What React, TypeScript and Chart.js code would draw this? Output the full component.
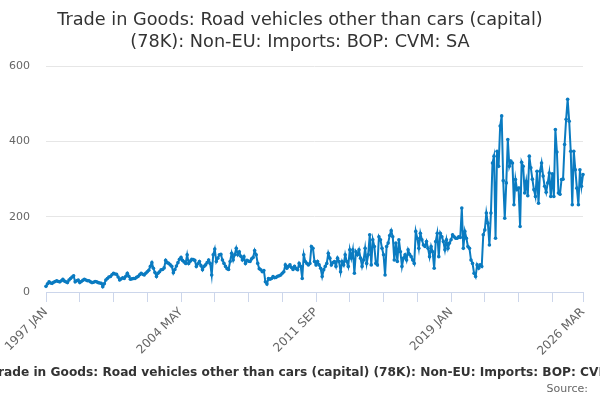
import React, { useEffect, useRef } from "react";
import { Chart, registerables } from "chart.js";

Chart.register(...registerables);

const TITLE = [
  "Trade in Goods: Road vehicles other than cars (capital)",
  "(78K): Non-EU: Imports: BOP: CVM: SA",
];
const CAPTION =
  "Trade in Goods: Road vehicles other than cars (capital) (78K): Non-EU: Imports: BOP: CVM: SA";

const MONTHS = ["JAN", "FEB", "MAR", "APR", "MAY", "JUN", "JUL", "AUG", "SEP", "OCT", "NOV", "DEC"];
const START_YEAR = 1997;

// monthly values, 1997 JAN .. 2026 MAR
const values = [
  15, 22, 27, 24, 23, 26, 28, 30, 28, 27,
  30, 34, 29, 27, 25, 32, 36, 40, 43, 27,
  30, 32, 25, 28, 31, 34, 32, 30, 30, 27,
  25, 26, 28, 27, 25, 24, 23, 14, 22, 32,
  36, 40, 41, 46, 50, 48, 47, 40, 32, 35,
  38, 36, 42, 50, 42, 34, 35, 36, 36, 39,
  41, 46, 50, 47, 45, 50, 54, 58, 68, 78,
  63, 52, 41, 50, 54, 59, 60, 64, 84, 78,
  76, 72, 68, 51, 60, 69, 78, 87, 92, 84,
  80, 76, 99, 76, 82, 87, 86, 84, 68, 75,
  81, 70, 59, 68, 72, 78, 85, 76, 45, 99,
  114, 81, 90, 99, 100, 85, 76, 68, 62, 60,
  81, 103, 85, 99, 116, 99, 107, 95, 85, 94,
  76, 84, 82, 81, 88, 92, 110, 99, 76, 62,
  59, 54, 57, 27, 21, 36, 34, 36, 41, 38,
  39, 42, 43, 45, 50, 54, 72, 63, 68, 72,
  65, 60, 68, 62, 59, 76, 68, 36, 99, 81,
  76, 72, 76, 121, 116, 81, 72, 81, 72, 63,
  41, 59, 68, 76, 103, 90, 72, 78, 81, 68,
  90, 81, 54, 81, 72, 99, 81, 68, 112, 90,
  112, 50, 107, 99, 112, 90, 68, 85, 116, 76,
  99, 152, 72, 139, 121, 76, 72, 147, 139, 116,
  99, 45, 121, 130, 150, 163, 147, 85, 130, 81,
  139, 107, 68, 90, 99, 85, 112, 100, 94, 85,
  76, 161, 143, 116, 156, 139, 125, 121, 134, 116,
  94, 121, 107, 63, 134, 156, 94, 156, 147, 134,
  112, 139, 116, 130, 139, 152, 147, 143, 143, 147,
  145, 223, 116, 161, 143, 121, 116, 85, 76, 50,
  41, 72, 63, 72, 68, 152, 165, 210, 183, 125,
  210, 343, 361, 143, 374, 334, 441, 468, 296, 196,
  290, 405, 334, 348, 343, 232, 299, 272, 276, 174,
  345, 334, 263, 294, 256, 361, 330, 300, 272, 254,
  321, 236, 321, 343, 308, 281, 265, 290, 316, 254,
  314, 254, 432, 372, 263, 260, 299, 300, 392, 459,
  512, 454, 374, 232, 374, 325, 276, 232, 325, 281,
  312,
];

const labels = values.map(
  (_, i) => `${START_YEAR + Math.floor(i / 12)} ${MONTHS[i % 12]}`
);

// labelled ticks and the smaller tick step
const tickLabels = ["1997 JAN", "2004 MAY", "2011 SEP", "2019 JAN", "2026 MAR"];
const TICK_STEP = 22;

const FONT = "DejaVu Sans";

const footerPlugin = {
  id: "footer",
  afterDraw(chart: Chart) {
    const ctx = chart.ctx;
    ctx.save();
    ctx.textBaseline = "middle";
    ctx.font = `bold 12.2px ${FONT}`;
    ctx.fillStyle = "#333333";
    ctx.textAlign = "left";
    ctx.fillText(CAPTION, -9, 373);
    ctx.font = `11px ${FONT}`;
    ctx.fillStyle = "#666666";
    ctx.textAlign = "right";
    ctx.fillText("Source:", 588, 389);
    ctx.restore();
  },
};

export default function App() {
  const canvasRef = useRef<HTMLCanvasElement>(null);

  useEffect(() => {
    document.body.style.margin = "0";
    if (!canvasRef.current) return;
    const last = values.length - 1;

    const chart = new Chart(canvasRef.current, {
      type: "line",
      data: {
        labels,
        datasets: [
          {
            data: values,
            borderColor: "#0a7bc1",
            backgroundColor: "#0a7bc1",
            borderWidth: 2,
            pointRadius: 1.8,
            pointBorderWidth: 0,
            tension: 0,
          },
        ],
      },
      options: {
        animation: false,
        responsive: true,
        maintainAspectRatio: false,
        layout: { padding: 0 },
        plugins: {
          legend: { display: false },
          tooltip: { enabled: false },
          title: {
            display: true,
            text: TITLE,
            color: "#333333",
            font: { family: FONT, size: 17.7, weight: "normal", lineHeight: 1.25 },
            padding: { top: 9, bottom: 13 },
          },
        },
        scales: {
          x: {
            type: "category",
            offset: false,
            afterFit: (scale: any) => {
              scale.height = 108;
            },
            border: { color: "#ccd6eb", width: 1 },
            grid: {
              drawOnChartArea: false,
              drawTicks: true,
              tickLength: 10,
              color: "#ccd6eb",
            },
            ticks: {
              autoSkip: false,
              minRotation: 45,
              maxRotation: 45,
              padding: 3,
              color: "#666666",
              font: { family: FONT, size: 12 },
              callback: (_v: any, i: number) => {
                const l = labels[i];
                if (tickLabels.includes(l)) return l;
                if (i % TICK_STEP === 0 || i === last) return "";
                return null;
              },
            },
          },
          y: {
            min: 0,
            max: 600,
            afterFit: (scale: any) => {
              scale.width = 46;
            },
            border: { display: false },
            grid: {
              drawTicks: false,
              color: (c: any) => (c.tick.value === 0 ? "rgba(0,0,0,0)" : "#e6e6e6"),
            },
            ticks: {
              stepSize: 200,
              padding: 16,
              color: "#666666",
              font: { family: FONT, size: 11 },
            },
          },
          // empty right-hand axis that only reserves the right margin
          yRight: {
            position: "right",
            min: 0,
            max: 600,
            afterFit: (scale: any) => {
              scale.width = 17;
            },
            border: { display: false },
            grid: { display: false },
            ticks: { display: false },
          },
        },
      },
      plugins: [footerPlugin],
    });

    return () => chart.destroy();
  }, []);

  return (
    <div style={{ width: 600, height: 400, position: "relative" }}>
      <canvas ref={canvasRef} />
    </div>
  );
}
